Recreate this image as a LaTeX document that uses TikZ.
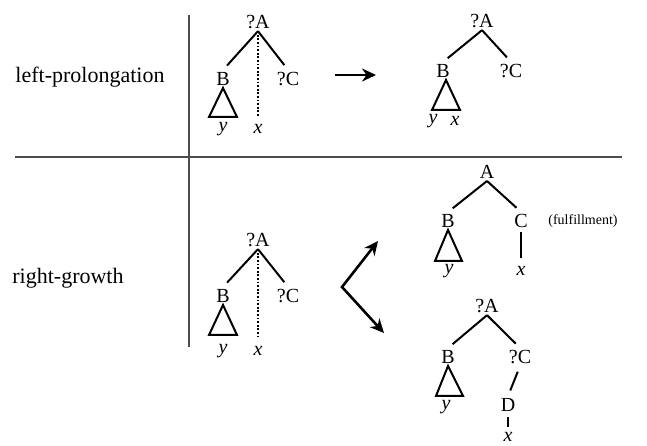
\documentclass[tikz,border=0pt]{standalone}
\usepackage{fontspec}
\setmainfont{Liberation Serif}
\usetikzlibrary{arrows.meta}
\begin{document}
\begin{tikzpicture}[x=0.5pt,y=-0.5pt]
\tikzstyle{lab}=[inner sep=1pt, font=\fontsize{10}{12}\selectfont]
\tikzstyle{row}=[font=\fontsize{11}{13}\selectfont]
\tikzstyle{note}=[font=\fontsize{7}{8}\selectfont]
\tikzstyle{edge}=[line width=1pt, shorten >=3pt]
\tikzstyle{dots}=[dash pattern=on 0.9pt off 0.9pt, line width=1.2pt, shorten >=3pt]
\tikzstyle{tri}=[line width=1pt, line join=miter]
\tikzstyle{divider}=[line width=0.7pt, black!70]
\tikzstyle{arr}=[line width=1.3pt, -{Stealth[length=7pt,width=6.5pt]}]
\tikzstyle{twoarr}=[line width=1.3pt, {Stealth[length=7pt,width=6.5pt]}-{Stealth[length=7pt,width=6.5pt]}]
    \useasboundingbox (0,0) rectangle (647,445);

    \draw[divider] (189,15) -- (189,347);
    \draw[divider] (15,157) -- (622,157);

    \node[row] (lp) at (90,77) {left-prolongation};
    \node[row] (rg) at (68,278) {right-growth};

    % left-prolongation, before
    \node[lab] (aA) at (258,22) {?A};
    \node[lab] (aB) at (223,79) {B};
    \node[lab] (aC) at (288,79) {?C};
    \node[lab] (ay) at (223,129) {\textit{y}};
    \node[lab] (ax) at (258,129) {\textit{x}};
    \draw[edge] (aA.south) -- (aB.north);
    \draw[edge] (aA.south) -- (aC.north);
    \draw[dots] (aA.south) -- (ax.north);
    \draw[tri] (aB.south) -- ++(-14,29) -- ++(28,0) -- cycle;

    \coordinate (p1) at (335,75);
    \coordinate (p2) at (376,75);
    \draw[arr] (p1) -- (p2);

    % left-prolongation, after
    \node[lab] (bA) at (482,21) {?A};
    \node[lab] (bB) at (443,71) {B};
    \node[lab] (bC) at (511,71) {?C};
    \node[lab] (by) at (433,121) {\textit{y}};
    \node[lab] (bx) at (455,121) {\textit{x}};
    \draw[edge] (bA.south) -- (bB.north);
    \draw[edge] (bA.south) -- (bC.north);
    \draw[tri] ([xshift=1.5pt]bB.south) -- ++(-14,30) -- ++(28,0) -- cycle;

    % right-growth, before
    \node[lab] (cA) at (258,240) {?A};
    \node[lab] (cB) at (223,296) {B};
    \node[lab] (cC) at (288,296) {?C};
    \node[lab] (cy) at (223,351) {\textit{y}};
    \node[lab] (cx) at (258,351) {\textit{x}};
    \draw[edge] (cA.south) -- (cB.north);
    \draw[edge] (cA.south) -- (cC.north);
    \draw[dots] (cA.south) -- (cx.north);
    \draw[tri] (cB.south) -- ++(-14,30) -- ++(28,0) -- cycle;

    \coordinate (v) at (342,287);
    \coordinate (v1) at (378,241);
    \coordinate (v2) at (384,333);
    \draw[twoarr] (v1) -- (v) -- (v2);

    % right-growth, fulfillment
    \node[lab] (dA) at (487,172) {A};
    \node[lab] (dB) at (448,221) {B};
    \node[lab] (dC) at (521,221) {C};
    \node[lab] (dy) at (449,271) {\textit{y}};
    \node[lab] (dx) at (521,271) {\textit{x}};
    \node[note] (ful) at (583,221) {(fulfillment)};
    \draw[edge] (dA.south) -- (dB.north);
    \draw[edge] (dA.south) -- (dC.north);
    \draw[edge, shorten <=1pt] (dC.south) -- (dx.north);
    \draw[tri] (dB.south) -- ++(-13,31) -- ++(27,0) -- cycle;

    % right-growth, new node
    \node[lab] (eA) at (487,306) {?A};
    \node[lab] (eB) at (448,357) {B};
    \node[lab] (eC) at (520,357) {?C};
    \node[lab] (eD) at (508,405) {D};
    \node[lab] (ey) at (446,407) {\textit{y}};
    \node[lab] (ex) at (508,437) {\textit{x}};
    \draw[edge] (eA.south) -- (eB.north);
    \draw[edge] (eA.south) -- (eC.north);
    \draw[edge, shorten <=3pt] (eC.south) -- (eD.north);
    \draw[edge, shorten <=1.5pt, shorten >=1.5pt] (eD.south) -- (ex.north);
    \draw[tri] (eB.south) -- ++(-12,30) -- ++(27,0) -- cycle;

\end{tikzpicture}
\end{document}
